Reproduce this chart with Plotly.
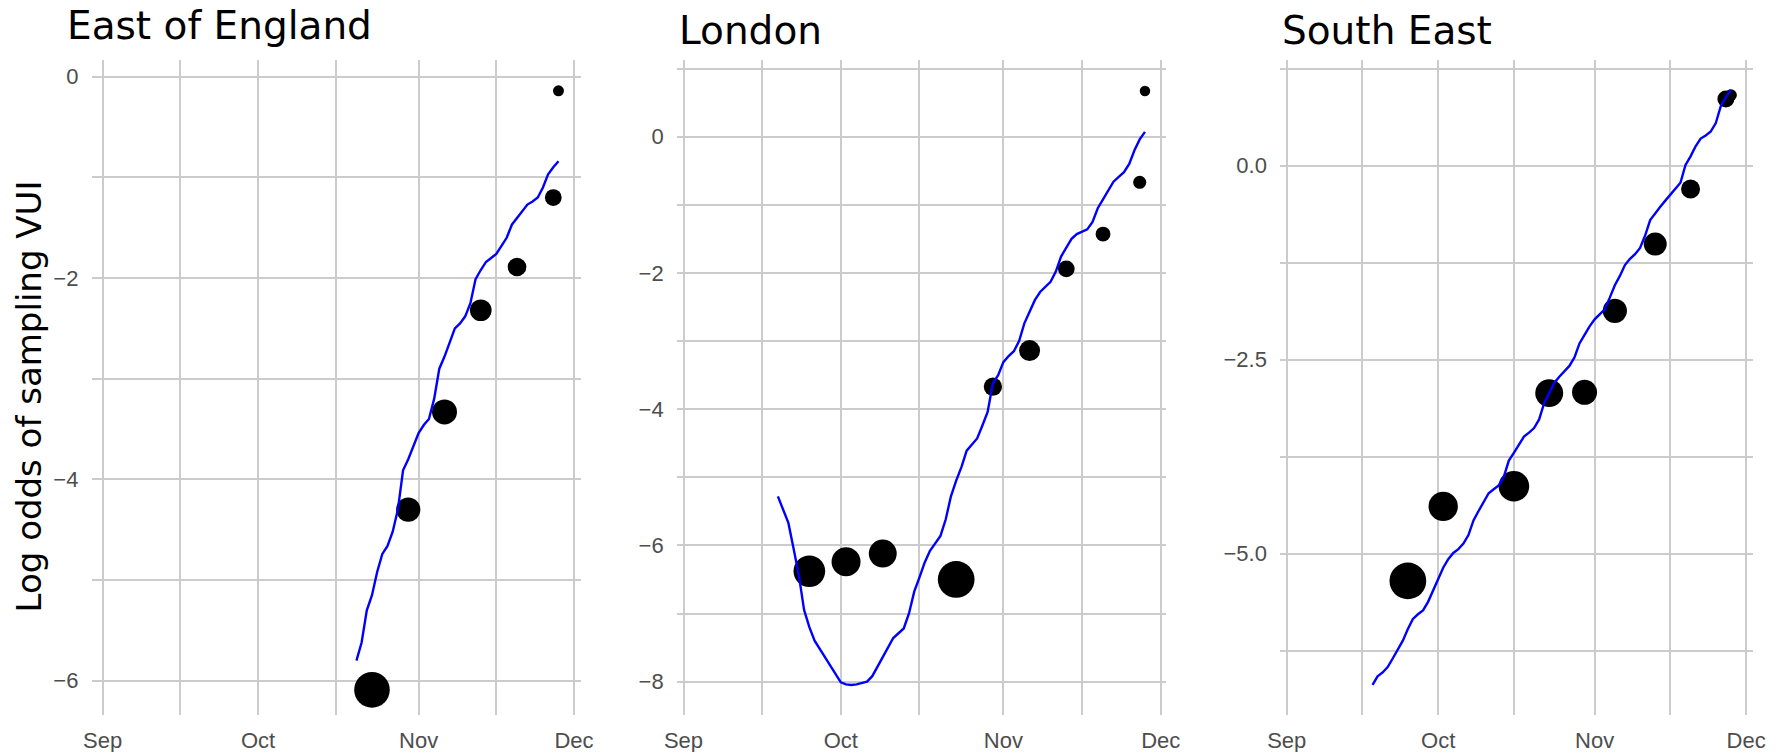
import pandas as pd
import plotly.graph_objects as go

# ---------------------------------------------------------------- data
regions = ["East of England", "London", "South East"]

# weekly observed log odds (black points) and their weights (point area)
eoe_pt_dates = ["2020-10-23", "2020-10-30", "2020-11-06", "2020-11-13",
                "2020-11-20", "2020-11-27", "2020-11-28"]
eoe_pt_vals = [-6.09, -4.30, -3.33, -2.32, -1.89, -1.20, -0.14]
eoe_pt_wts = [12.7, 5.9, 6.25, 4.7, 3.5, 2.8, 1.2]

ldn_pt_dates = ["2020-09-25", "2020-10-02", "2020-10-09", "2020-10-23",
                "2020-10-30", "2020-11-06", "2020-11-13", "2020-11-20",
                "2020-11-27", "2020-11-28"]
ldn_pt_vals = [-6.38, -6.24, -6.12, -6.50, -3.67, -3.14, -1.94, -1.43,
               -0.67, 0.67]
ldn_pt_wts = [10.0, 8.4, 7.8, 13.5, 3.35, 4.4, 2.8, 2.2, 1.7, 1.1]

se_pt_dates = ["2020-09-25", "2020-10-02", "2020-10-16", "2020-10-23",
               "2020-10-30", "2020-11-05", "2020-11-13", "2020-11-20",
               "2020-11-27", "2020-11-28"]
se_pt_vals = [-5.35, -4.39, -4.13, -2.93, -2.92, -1.87, -1.01, -0.30,
              0.86, 0.91]
se_pt_wts = [13.5, 8.6, 9.4, 7.8, 6.25, 5.9, 5.3, 3.6, 2.9, 1.4]

# daily fitted log odds (blue line)
eoe_fit_start = "2020-10-20"
eoe_fit = [-5.80, -5.62, -5.30, -5.15, -4.92, -4.74, -4.66, -4.52, -4.30,
           -3.91, -3.80, -3.66, -3.54, -3.46, -3.40, -3.20, -2.90, -2.78,
           -2.64, -2.50, -2.45, -2.38, -2.25, -2.01, -1.92, -1.84, -1.80,
           -1.76, -1.68, -1.60, -1.47, -1.40, -1.33, -1.27, -1.24, -1.20,
           -1.10, -0.97, -0.90, -0.84]

ldn_fit_start = "2020-09-19"
ldn_fit = [-5.28, -5.48, -5.67, -6.05, -6.44, -6.95, -7.20, -7.40, -7.52,
           -7.64, -7.78, -7.89, -8.01, -8.04, -8.05, -8.04, -8.02, -8.00,
           -7.92, -7.78, -7.62, -7.48, -7.36, -7.29, -7.22, -7.00, -6.68,
           -6.47, -6.25, -6.08, -5.97, -5.86, -5.62, -5.28, -5.05, -4.85,
           -4.61, -4.52, -4.43, -4.24, -4.04, -3.62, -3.50, -3.31, -3.22,
           -3.15, -3.00, -2.74, -2.56, -2.40, -2.28, -2.20, -2.13, -1.98,
           -1.76, -1.63, -1.50, -1.43, -1.40, -1.36, -1.25, -1.05, -0.92,
           -0.78, -0.66, -0.59, -0.52, -0.40, -0.20, -0.04, 0.07]

se_fit_start = "2020-09-18"
se_fit = [-6.69, -6.58, -6.53, -6.46, -6.35, -6.24, -6.12, -5.97, -5.84,
          -5.78, -5.73, -5.62, -5.48, -5.32, -5.18, -5.07, -4.99, -4.94,
          -4.87, -4.76, -4.57, -4.45, -4.33, -4.22, -4.17, -4.12, -4.01,
          -3.80, -3.70, -3.60, -3.49, -3.44, -3.38, -3.27, -3.06, -2.93,
          -2.80, -2.72, -2.65, -2.58, -2.47, -2.29, -2.18, -2.07, -1.98,
          -1.91, -1.85, -1.70, -1.54, -1.42, -1.28, -1.20, -1.14, -1.06,
          -0.90, -0.70, -0.61, -0.53, -0.45, -0.37, -0.30, -0.22, 0.01,
          0.12, 0.25, 0.35, 0.39, 0.44, 0.55, 0.77, 0.88, 0.98]

month_ticks = ["2020-09-01", "2020-10-01", "2020-11-01", "2020-12-01"]
month_labels = ["Sep", "Oct", "Nov", "Dec"]
mid_month = ["2020-09-16", "2020-10-16", "2020-11-16"]

# ---------------------------------------------------------------- style
W, H = 1780, 752
GRID = "#cccccc"
TICK_COL = "#4d4d4d"
TITLE_FONT = "DejaVu Sans"
TICK_FONT = "Liberation Sans, Arial, sans-serif"

panels = [
    dict(name=regions[0], pts=(eoe_pt_dates, eoe_pt_vals, eoe_pt_wts),
         fit=(eoe_fit_start, eoe_fit),
         px=(91.8, 580.9), xr=("2020-08-29 21:58", "2020-12-02 07:55"),
         yr=(-6.34, 0.166), ymaj=[0, -2, -4, -6], ymin=[-1, -3, -5],
         yfmt="d", title_base=40.7),
    dict(name=regions[1], pts=(ldn_pt_dates, ldn_pt_vals, ldn_pt_wts),
         fit=(ldn_fit_start, ldn_fit),
         px=(677.1, 1166.3), xr=("2020-08-30 18:43", "2020-12-02 01:41"),
         yr=(-8.49, 1.126), ymaj=[0, -2, -4, -6, -8], ymin=[1, -1, -3, -5, -7],
         yfmt="d", title_base=45.7),
    dict(name=regions[2], pts=(se_pt_dates, se_pt_vals, se_pt_wts),
         fit=(se_fit_start, se_fit),
         px=(1280.3, 1752.5), xr=("2020-08-30 17:31", "2020-12-02 06:29"),
         yr=(-7.078, 1.362), ymaj=[0.0, -2.5, -5.0],
         ymin=[1.25, -1.25, -3.75, -6.25],
         yfmt=".1f", title_base=45.7),
]

PANEL_TOP, PANEL_BOT = 60, 715
ydom = [1 - PANEL_BOT / H, 1 - PANEL_TOP / H]

fig = go.Figure()
layout = dict(
    width=W, height=H,
    margin=dict(l=0, r=0, t=0, b=0),
    paper_bgcolor="white", plot_bgcolor="white",
    showlegend=False,
    annotations=[],
)

for i, p in enumerate(panels, start=1):
    xa = "x" if i == 1 else f"x{i}"
    ya = "y" if i == 1 else f"y{i}"
    dates, vals, wts = p["pts"]
    fig.add_trace(go.Scatter(
        x=dates, y=vals, mode="markers", xaxis=xa, yaxis=ya,
        marker=dict(color="black", size=wts, sizemode="area", opacity=1,
                    sizeref=0.02, line=dict(width=0)),
        hoverinfo="x+y",
    ))
    start, fit = p["fit"]
    fit_dates = pd.date_range(start, periods=len(fit), freq="D")
    fig.add_trace(go.Scatter(
        x=fit_dates, y=fit, mode="lines", xaxis=xa, yaxis=ya,
        line=dict(color="#0000ff", width=2.4),
        hoverinfo="x+y",
    ))

    xdom = [p["px"][0] / W, p["px"][1] / W]
    common = dict(showline=False, zeroline=False, automargin=False,
                  showgrid=True, gridcolor=GRID, gridwidth=2.2)
    layout["xaxis" if i == 1 else f"xaxis{i}"] = dict(
        domain=xdom, anchor=ya, type="date", range=list(p["xr"]),
        tickmode="array", tickvals=month_ticks, ticktext=month_labels,
        ticks="outside", ticklen=6, tickcolor="rgba(0,0,0,0)",
        tickfont=dict(family=TICK_FONT, size=22, color=TICK_COL),
        minor=dict(tickmode="array", tickvals=mid_month, showgrid=True,
                   gridcolor=GRID, gridwidth=2.2, ticks=""),
        **common,
    )
    layout["yaxis" if i == 1 else f"yaxis{i}"] = dict(
        domain=ydom, anchor=xa, range=list(p["yr"]),
        tickmode="array", tickvals=p["ymaj"],
        tickformat=p["yfmt"],
        ticks="outside", ticklen=8, tickcolor="rgba(0,0,0,0)",
        tickfont=dict(family=TICK_FONT, size=22, color=TICK_COL),
        minor=dict(tickmode="array", tickvals=p["ymin"], showgrid=True,
                   gridcolor=GRID, gridwidth=2.2, ticks=""),
        **common,
    )

    # panel title
    title_x = 65.0 if i == 1 else p["px"][0]
    layout["annotations"].append(dict(
        text=p["name"], xref="paper", yref="paper",
        x=title_x / W, y=1 - (p["title_base"] + 9) / H,
        xanchor="left", yanchor="bottom", showarrow=False,
        font=dict(family=TITLE_FONT, size=39, color="black"),
    ))

# shared y-axis title
layout["annotations"].append(dict(
    text="Log odds of sampling VUI", xref="paper", yref="paper",
    x=28.7 / W, y=1 - 396.7 / H, xanchor="center", yanchor="middle",
    textangle=-90, showarrow=False,
    font=dict(family=TITLE_FONT, size=34, color="black"),
))

fig.update_layout(**layout)
fig.write_html("out.html")
